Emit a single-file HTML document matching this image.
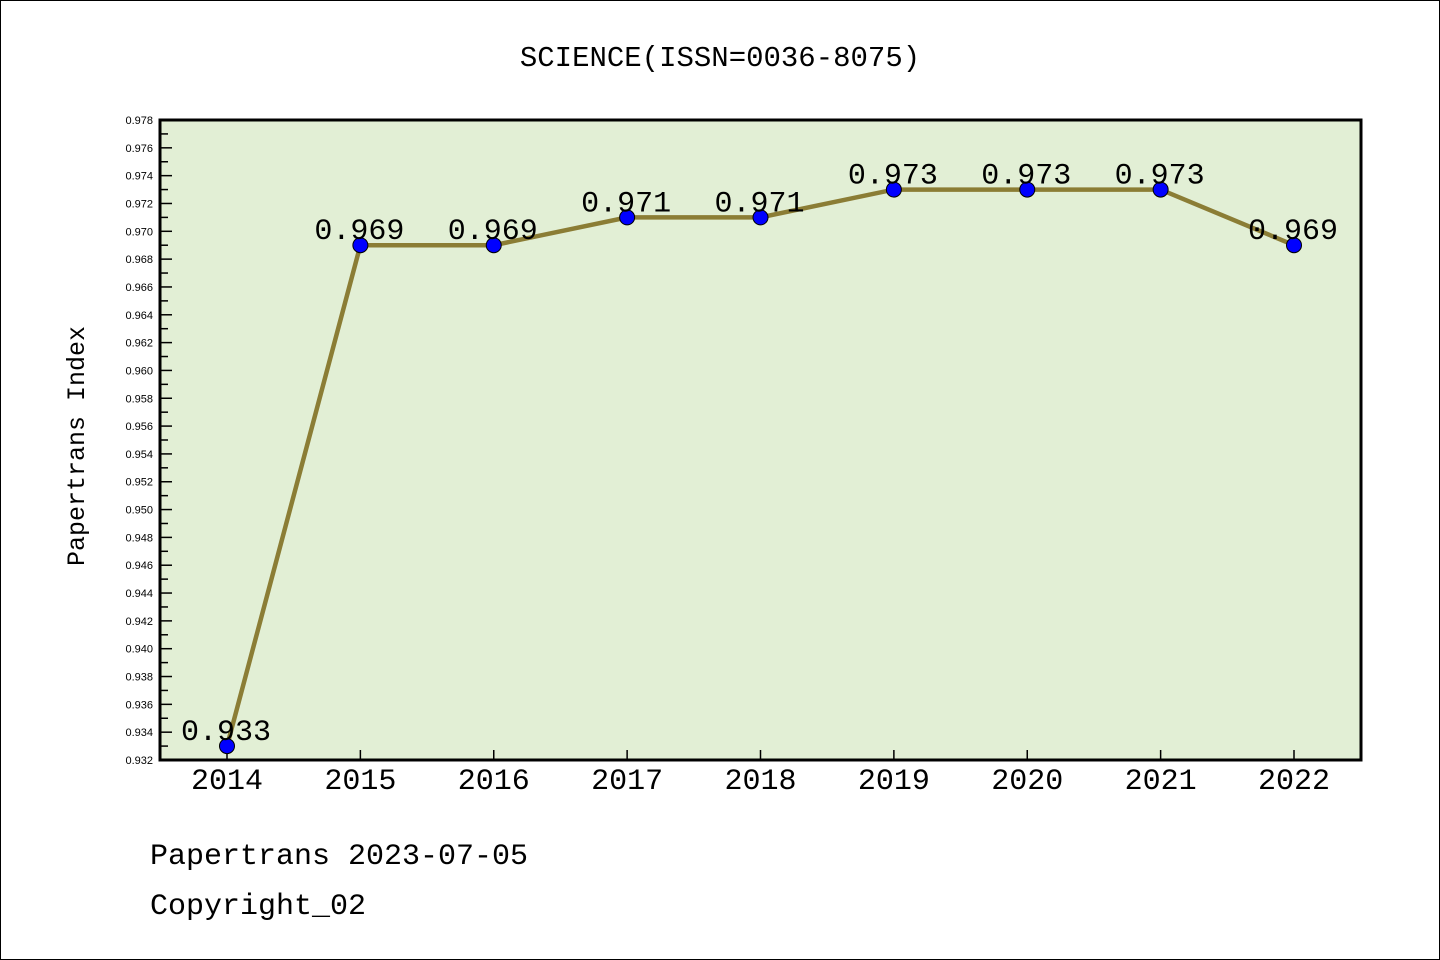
<!DOCTYPE html>
<html><head><meta charset="utf-8"><style>
body{margin:0;background:#fff}
svg{display:block}
text{font-family:"Liberation Sans",sans-serif}
.mono{font-family:"Liberation Mono","WenQuanYi Zen Hei",monospace}
</style></head><body>
<svg id="chart" width="1440" height="960" xmlns="http://www.w3.org/2000/svg">
<rect x="0.5" y="0.5" width="1439" height="959" fill="#fff" stroke="#000"/>
<text class="mono" x="720" y="66" font-size="29" text-anchor="middle">SCIENCE(ISSN=0036-8075)</text>
<rect x="160" y="120" width="1201" height="640" fill="#e2efd5"/>
<g id="yaxis"></g>
<g id="xaxis"></g>
<g id="series"></g>
<rect x="160" y="120" width="1201" height="640" fill="none" stroke="#000" stroke-width="3"/>
<text class="mono" transform="translate(84,446) rotate(-90)" font-size="25" text-anchor="middle">Papertrans Index</text>
<text class="mono" x="150" y="864" font-size="30">Papertrans 2023-07-05</text>
<text class="mono" x="150" y="914" font-size="30">Copyright_02</text>
</svg>
<script>
const years=["2014","2015","2016","2017","2018","2019","2020","2021","2022"];
const values=[0.933,0.969,0.969,0.971,0.971,0.973,0.973,0.973,0.969];
const valueLabels=["0.933","0.969","0.969","0.971","0.971","0.973","0.973","0.973","0.969"];
const yMin=0.932,yMax=0.978;
const NS="http://www.w3.org/2000/svg";
const X=i=>227+i*(1294-227)/(years.length-1);
const Y=v=>760-(v-yMin)/(yMax-yMin)*640;
function mk(t,a,p){const e=document.createElementNS(NS,t);for(const k in a)e.setAttribute(k,a[k]);p.appendChild(e);return e;}
const ya=document.getElementById('yaxis');
for(let k=0;k<=46;k++){const v=yMin+k*0.001;const y=Y(v);const major=k%2===0;
 const t=mk('line',{x1:160,x2:major?172:168,y1:y,y2:y,stroke:'#000','stroke-width':1.5},ya);
 
 if(major){const l=mk('text',{x:153,y:y+4,'font-size':11,'text-anchor':'end'},ya);l.textContent=v.toFixed(3);
 }}
const xa=document.getElementById('xaxis');
years.forEach((yr,i)=>{const x=X(i);
 const t=mk('line',{x1:x,x2:x,y1:760,y2:750,stroke:'#000','stroke-width':1.5},xa);
 
 const l=mk('text',{x:x,y:789,'font-size':30,'text-anchor':'middle',class:'mono'},xa);l.textContent=yr;
 });
const s=document.getElementById('series');
const line=mk('polyline',{points:values.map((v,i)=>X(i)+','+Y(v)).join(' '),fill:'none',stroke:'#8b7d35','stroke-width':4.5},s);

values.forEach((v,i)=>{
 const c=mk('circle',{cx:X(i),cy:Y(v),r:7.5,fill:'#0000ff',stroke:'#000','stroke-width':1},s);
 
 const l=mk('text',{x:X(i)-1,y:Y(v)-6,'font-size':30,'text-anchor':'middle',class:'mono'},s);l.textContent=valueLabels[i];
 });
</script>
</body></html>
